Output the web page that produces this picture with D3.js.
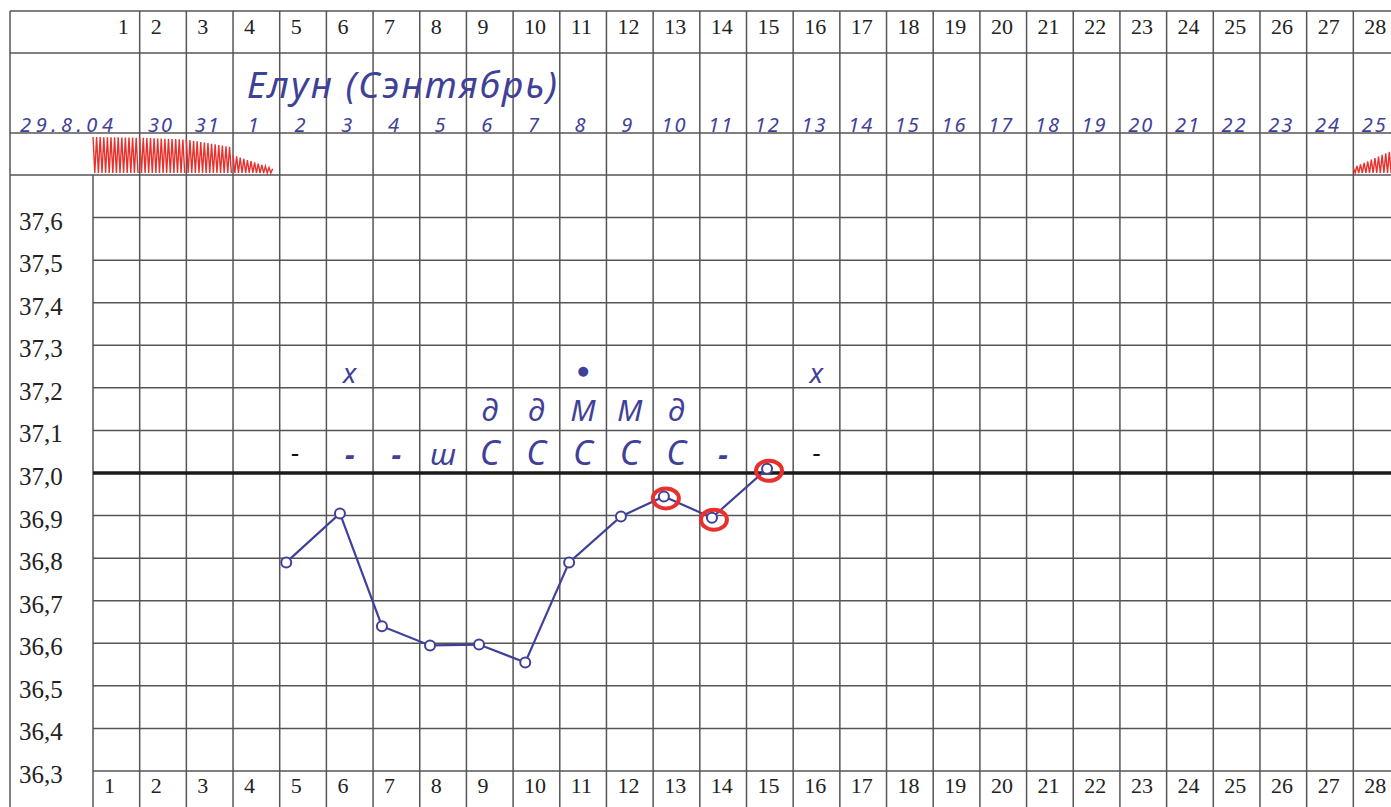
<!DOCTYPE html>
<html>
<head>
<meta charset="utf-8">
<script src="https://cdn.jsdelivr.net/npm/d3@7"></script>
<style>
  body { margin: 0; background: #fff; }
</style>
</head>
<body>
<div id="chart"></div>
<script>
// --- data ---
const days = d3.range(1, 29); // cycle days 1..28
const dateLabels = ["29.8.04", "30", "31", "1", "2", "3", "4", "5", "6", "7", "8", "9", "10",
  "11", "12", "13", "14", "15", "16", "17", "18", "19", "20", "21", "22", "23", "24", "25"];
const tempTicks = [37.6, 37.5, 37.4, 37.3, 37.2, 37.1, 37.0, 36.9, 36.8, 36.7, 36.6, 36.5, 36.4, 36.3];

// measured temperature; position is in day units (cell of day d spans d-1 .. d)
const measPos = [4.14, 5.29, 6.19, 7.22, 8.27, 9.26, 10.20, 11.31, 12.23, 13.26, 14.44];
const measTemp = [36.79, 36.905, 36.64, 36.595, 36.597, 36.555, 36.79, 36.898, 36.945, 36.895, 37.01];
const circledIdx = [8, 9, 10];

// bleeding marks (red zigzag), level 0..1 at start and end of the day
const flowDays = [1, 2, 3, 4, 28];
const flowFrom = [1.0, 0.98, 0.93, 0.5, 0.15];
const flowTo = [0.98, 0.93, 0.72, 0.12, 0.7];
const flowSpan = [1, 1, 1, 0.85, 1];

// handwritten notes, three rows above 37,0
const notes1Days = [6, 11, 16];
const notes1Text = ["х", "●", "х"];
const notes2Days = [9, 10, 11, 12, 13];
const notes2Text = ["д", "д", "М", "М", "д"];
const notes3Days = [6, 7, 8, 9, 10, 11, 12, 13, 14];
const notes3Text = ["-", "-", "ш", "С", "С", "С", "С", "С", "-"];
const printedDashDays = [5, 16];

const W = 1391, H = 807;
const blue = "#3f4199", red = "#e8302c", gridCol = "#555";
const hand = "'Noto Sans', 'DejaVu Sans', sans-serif";
const print = "'Liberation Serif', 'Times New Roman', serif";

const svg = d3.select("#chart").append("svg")
  .attr("width", W)
  .attr("height", H);

const x = d3.scaleLinear().domain([0, 28]).range([93, 1400]);
const y = d3.scaleLinear().domain([36.3, 37.7]).range([771, 175]);

const rowTop = 11, rowNum = 53, rowDate = 133;
const left = 10;

// --- grid ---
const grid = svg.append("g").attr("stroke", gridCol).attr("stroke-width", 1.5);

// header row lines
grid.selectAll(".hrow")
  .data([rowTop, rowNum, rowDate])
  .enter().append("line")
  .attr("x1", left).attr("x2", W)
  .attr("y1", d => d).attr("y2", d => d);

// temperature lines
grid.selectAll(".tline")
  .data(d3.range(0, 15).map(i => 37.7 - i * 0.1))
  .enter().append("line")
  .attr("x1", (d, i) => i === 0 ? left : x(0))
  .attr("x2", W)
  .attr("y1", d => y(d)).attr("y2", d => y(d));

// vertical lines
grid.selectAll(".vline")
  .data(d3.range(0, 28))
  .enter().append("line")
  .attr("x1", d => x(d)).attr("x2", d => x(d))
  .attr("y1", d => d === 0 ? y(37.7) : rowTop)
  .attr("y2", H);

grid.append("line")
  .attr("x1", left).attr("x2", left)
  .attr("y1", rowTop).attr("y2", H);

// thick 37,0 line
svg.append("line")
  .attr("x1", x(0)).attr("x2", W)
  .attr("y1", y(37.0)).attr("y2", y(37.0))
  .attr("stroke", "#1a1a1a")
  .attr("stroke-width", 3.5);

// --- day numbers top and bottom ---
svg.selectAll(".topnum")
  .data(days)
  .enter().append("text")
  .attr("x", d => d === 1 ? x(1) - 11 : x(d - 1) + 11)
  .attr("y", 34)
  .attr("text-anchor", d => d === 1 ? "end" : "start")
  .style("font-family", print)
  .style("font-size", "22px")
  .attr("fill", "#222")
  .text(d => d);

svg.selectAll(".botnum")
  .data(days)
  .enter().append("text")
  .attr("x", d => x(d - 1) + 11)
  .attr("y", 793)
  .style("font-family", print)
  .style("font-size", "22px")
  .attr("fill", "#222")
  .text(d => d);

// --- temperature labels ---
svg.selectAll(".tlab")
  .data(tempTicks)
  .enter().append("text")
  .attr("x", 19)
  .attr("y", d => y(d) + 12)
  .style("font-family", print)
  .style("font-size", "25px")
  .attr("fill", "#222")
  .text(d => d.toFixed(1).replace(".", ","));

// --- title and dates (handwritten) ---
svg.append("text")
  .attr("x", 247)
  .attr("y", 98)
  .attr("textLength", 310)
  .attr("lengthAdjust", "spacing")
  .style("font-family", hand)
  .style("font-style", "italic")
  .style("font-size", "37px")
  .attr("fill", blue)
  .text("Елун (Сэнтябрь)");

svg.selectAll(".date")
  .data(dateLabels)
  .enter().append("text")
  .attr("x", (d, i) => i === 0 ? 20 : (x(i) + x(i + 1)) / 2 - 2)
  .attr("y", 132)
  .attr("text-anchor", (d, i) => i === 0 ? "start" : "middle")
  .attr("textLength", (d, i) => i === 0 ? 95 : null)
  .style("font-family", hand)
  .style("font-style", "italic")
  .style("font-size", "20px")
  .style("letter-spacing", "2px")
  .attr("fill", blue)
  .text(d => d);

// --- red bleeding zigzag ---
const zBottom = 173, zMax = 36;
function zigzag(i) {
  const x0 = x(flowDays[i] - 1), x1 = x(flowDays[i] - 1 + flowSpan[i]);
  const step = 1.8;
  const n = Math.floor((x1 - x0) / step);
  const pts = d3.range(0, n + 1).map(k => {
    const lev = flowFrom[i] + (flowTo[i] - flowFrom[i]) * k / n;
    return [x0 + k * step, k % 2 ? zBottom : zBottom - lev * zMax];
  });
  return d3.line()(pts);
}

svg.selectAll(".flow")
  .data(flowDays)
  .enter().append("path")
  .attr("d", (d, i) => zigzag(i))
  .attr("fill", "none")
  .attr("stroke", red)
  .attr("stroke-width", 1.4);

// --- notes ---
const cx = d => (x(d - 1) + x(d)) / 2;

svg.selectAll(".n1")
  .data(notes1Days)
  .enter().append("text")
  .attr("x", d => cx(d))
  .attr("y", y(37.2) - 5)
  .attr("text-anchor", "middle")
  .style("font-family", hand)
  .style("font-style", "italic")
  .style("font-size", (d, i) => notes1Text[i] === "●" ? "13px" : "28px")
  .attr("dy", (d, i) => notes1Text[i] === "●" ? -8 : 0)
  .attr("fill", blue)
  .text((d, i) => notes1Text[i]);

svg.selectAll(".n2")
  .data(notes2Days)
  .enter().append("text")
  .attr("x", d => cx(d))
  .attr("y", y(37.1) - 9)
  .attr("text-anchor", "middle")
  .style("font-family", hand)
  .style("font-style", "italic")
  .style("font-size", "30px")
  .attr("fill", blue)
  .text((d, i) => notes2Text[i]);

svg.selectAll(".n3")
  .data(notes3Days)
  .enter().append("text")
  .attr("x", d => cx(d))
  .attr("y", y(37.0) - 8)
  .attr("text-anchor", "middle")
  .style("font-family", hand)
  .style("font-style", "italic")
  .style("font-size", (d, i) => notes3Text[i] === "С" ? "34px" : "30px")
  .style("font-weight", (d, i) => notes3Text[i] === "-" ? "bold" : "normal")
  .attr("fill", blue)
  .text((d, i) => notes3Text[i]);

svg.selectAll(".pdash")
  .data(printedDashDays)
  .enter().append("text")
  .attr("x", d => cx(d) - (d === 5 ? 8 : 0))
  .attr("y", y(37.0) - 12)
  .attr("text-anchor", "middle")
  .style("font-family", print)
  .style("font-size", "24px")
  .style("font-weight", "bold")
  .attr("fill", "#111")
  .text("-");

// --- temperature curve ---
const pts = measPos.map((p, i) => [p, measTemp[i]]);

svg.append("path")
  .datum(pts)
  .attr("fill", "none")
  .attr("stroke", blue)
  .attr("stroke-width", 2.2)
  .attr("d", d3.line().x(d => x(d[0])).y(d => y(d[1])));

svg.selectAll(".pt")
  .data(pts)
  .enter().append("circle")
  .attr("cx", d => x(d[0]))
  .attr("cy", d => y(d[1]))
  .attr("r", 5)
  .attr("fill", "#fff")
  .attr("stroke", blue)
  .attr("stroke-width", 2);

svg.selectAll(".ring")
  .data(circledIdx)
  .enter().append("ellipse")
  .attr("cx", i => x(measPos[i]) + 2)
  .attr("cy", i => y(measTemp[i]) + 2)
  .attr("rx", 13)
  .attr("ry", 10)
  .attr("fill", "none")
  .attr("stroke", red)
  .attr("stroke-width", 4);
</script>
</body>
</html>
